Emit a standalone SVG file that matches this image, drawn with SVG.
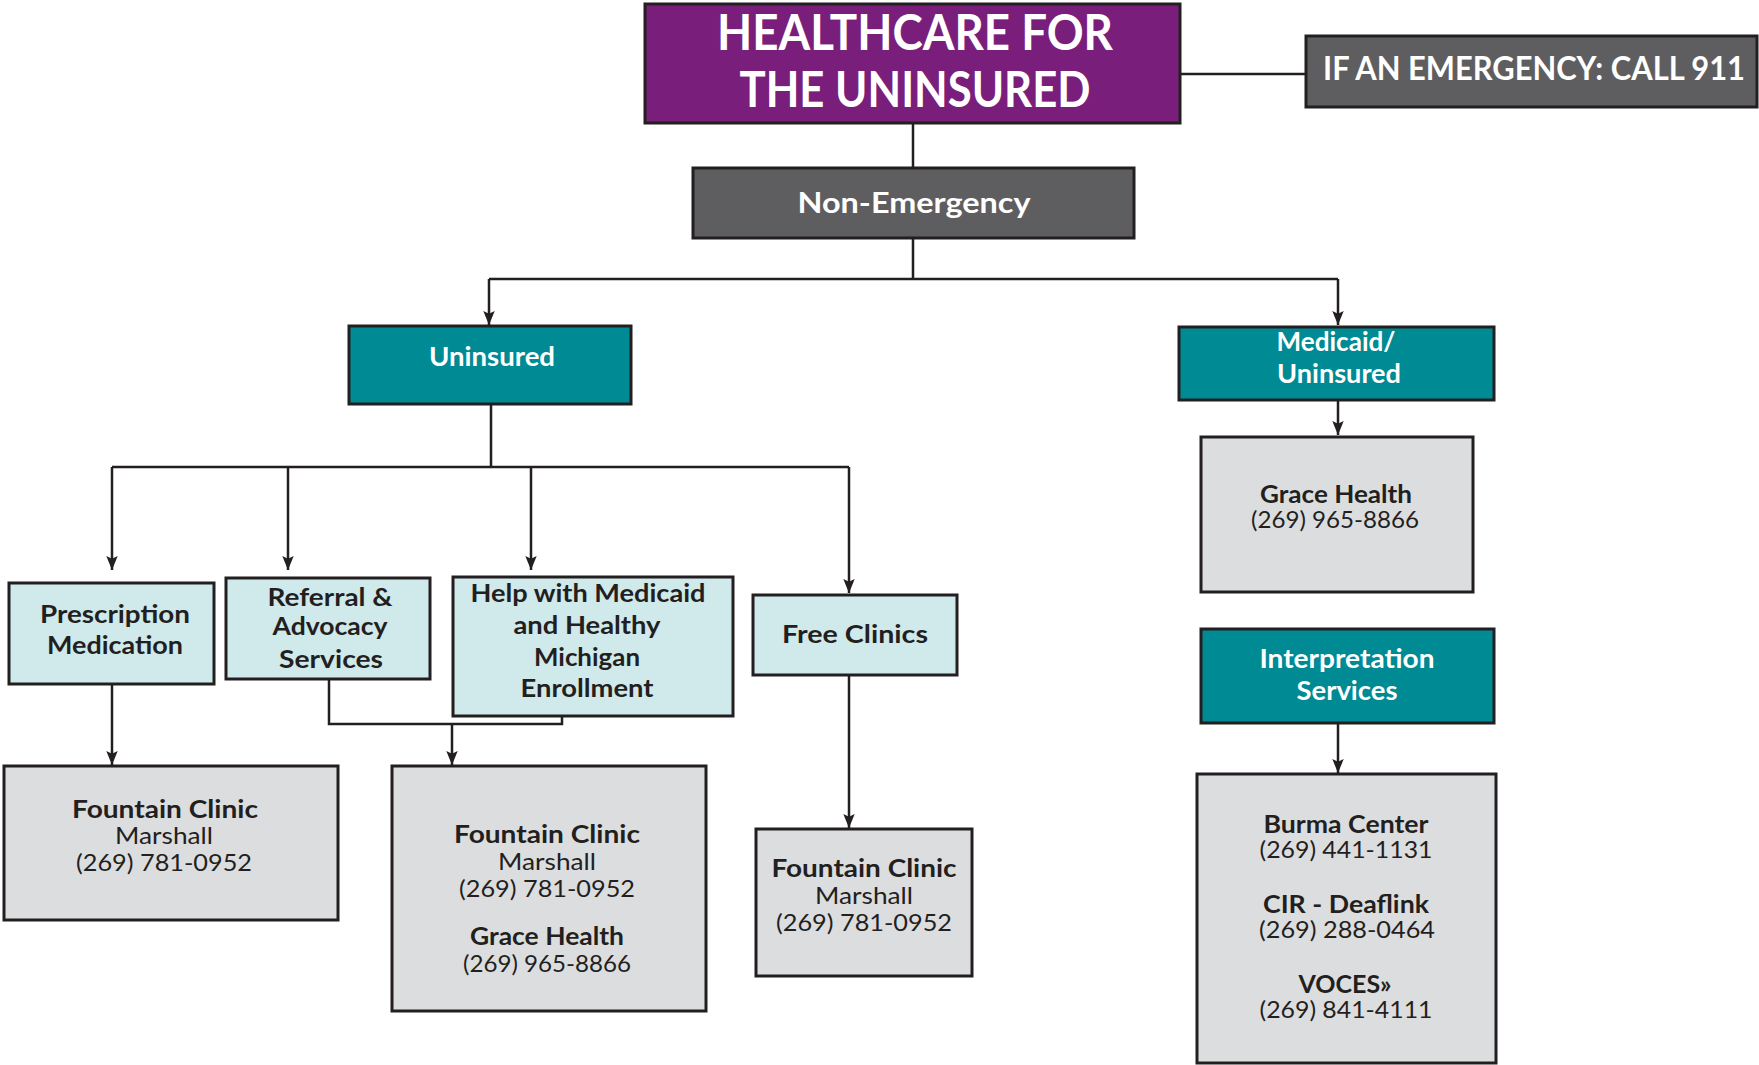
<svg xmlns="http://www.w3.org/2000/svg" width="1759" height="1065" viewBox="0 0 1759 1065">
<style>
.box{stroke:#231f20;stroke-width:3}
.purple{fill:#7a1e7b}
.dark{fill:#5e5e60}
.teal{fill:#008a93}
.lt{fill:#d0e9eb}
.gray{fill:#dcdddf}
text{font-family:Lato,"Open Sans","Liberation Sans",sans-serif;text-anchor:middle}
.w{fill:#ffffff;font-weight:bold}
.b{fill:#231f20;font-weight:bold}
.r{fill:#231f20;font-weight:normal}
.c{stroke:#231f20;stroke-width:2.5;fill:none}
.a{marker-end:url(#arr)}
</style>
<defs>
<marker id="arr" markerUnits="userSpaceOnUse" markerWidth="14" markerHeight="18" refX="16" refY="6.5" orient="auto" viewBox="0 0 16 13">
<path d="M0,0 L16,6.5 L0,13 L3,6.5 z" fill="#231f20"/>
</marker>
</defs>
<g id="connectors">
<path class="c" d="M1180,74 H1306"/>
<path class="c" d="M913,123 V168"/>
<path class="c" d="M913,238 V279 M489,279 H1338"/>
<path class="c a" d="M489,279 V325"/>
<path class="c a" d="M1338,279 V325"/>
<path class="c a" d="M1338,400 V435"/>
<path class="c a" d="M1338,722 V773"/>
<path class="c" d="M491,404 V467 M112,467 H849"/>
<path class="c a" d="M112,467 V570"/>
<path class="c a" d="M288,467 V570"/>
<path class="c a" d="M531,467 V570"/>
<path class="c a" d="M849,467 V593"/>
<path class="c a" d="M112,684 V765"/>
<path class="c" d="M329,679 V724 H562 V716"/>
<path class="c a" d="M452,724 V765"/>
<path class="c a" d="M849,675 V828"/>
</g>
<g id="title">
<rect class="box purple" x="645" y="4" width="535" height="119"/>
<text class="w" x="915" y="50" font-size="49" textLength="396" lengthAdjust="spacingAndGlyphs">HEALTHCARE FOR</text>
<text class="w" x="915" y="107" font-size="49" textLength="351" lengthAdjust="spacingAndGlyphs">THE UNINSURED</text>
</g>
<g id="emergency">
<rect class="box dark" x="1306" y="36" width="451" height="71"/>
<text class="w" x="1534" y="80" font-size="32" textLength="422" lengthAdjust="spacingAndGlyphs">IF AN EMERGENCY: CALL 911</text>
</g>
<g id="non-emergency">
<rect class="box dark" x="693" y="168" width="441" height="70"/>
<text class="w" x="914" y="213" font-size="29" textLength="233" lengthAdjust="spacingAndGlyphs">Non-Emergency</text>
</g>
<g id="uninsured">
<rect class="box teal" x="349" y="326" width="282" height="78"/>
<text class="w" x="492" y="366" font-size="26" textLength="126" lengthAdjust="spacingAndGlyphs">Uninsured</text>
</g>
<g id="medicaid-uninsured">
<rect class="box teal" x="1179" y="327" width="315" height="73"/>
<text class="w" x="1336" y="351" font-size="26" textLength="119" lengthAdjust="spacingAndGlyphs">Medicaid/</text>
<text class="w" x="1339" y="383" font-size="26" textLength="124" lengthAdjust="spacingAndGlyphs">Uninsured</text>
</g>
<g id="grace-health">
<rect class="box gray" x="1201" y="437" width="272" height="155"/>
<text class="b" x="1336" y="503" font-size="24" textLength="152" lengthAdjust="spacingAndGlyphs">Grace Health</text>
<text class="r" x="1335" y="528" font-size="24" textLength="168" lengthAdjust="spacingAndGlyphs">(269) 965-8866</text>
</g>
<g id="interpretation">
<rect class="box teal" x="1201" y="629" width="293" height="94"/>
<text class="w" x="1347" y="668" font-size="26" textLength="175" lengthAdjust="spacingAndGlyphs">Interpretation</text>
<text class="w" x="1347" y="700" font-size="26" textLength="101" lengthAdjust="spacingAndGlyphs">Services</text>
</g>
<g id="interpretation-contacts">
<rect class="box gray" x="1197" y="774" width="299" height="289"/>
<text class="b" x="1346" y="833" font-size="24" textLength="165" lengthAdjust="spacingAndGlyphs">Burma Center</text>
<text class="r" x="1346" y="858" font-size="24" textLength="173" lengthAdjust="spacingAndGlyphs">(269) 441-1131</text>
<text class="b" x="1346" y="913" font-size="24" textLength="166" lengthAdjust="spacingAndGlyphs">CIR - Deaflink</text>
<text class="r" x="1347" y="938" font-size="24" textLength="176" lengthAdjust="spacingAndGlyphs">(269) 288-0464</text>
<text class="b" x="1345" y="993" font-size="24" textLength="93" lengthAdjust="spacingAndGlyphs">VOCES»</text>
<text class="r" x="1346" y="1018" font-size="24" textLength="173" lengthAdjust="spacingAndGlyphs">(269) 841-4111</text>
</g>
<g id="prescription">
<rect class="box lt" x="9" y="583" width="205" height="101"/>
<text class="b" x="115" y="623" font-size="25" textLength="150" lengthAdjust="spacingAndGlyphs">Prescription</text>
<text class="b" x="115" y="654" font-size="25" textLength="136" lengthAdjust="spacingAndGlyphs">Medication</text>
</g>
<g id="referral">
<rect class="box lt" x="226" y="578" width="204" height="101"/>
<text class="b" x="330" y="606" font-size="25" textLength="125" lengthAdjust="spacingAndGlyphs">Referral &amp;</text>
<text class="b" x="330" y="635" font-size="25" textLength="115" lengthAdjust="spacingAndGlyphs">Advocacy</text>
<text class="b" x="331" y="668" font-size="25" textLength="104" lengthAdjust="spacingAndGlyphs">Services</text>
</g>
<g id="help-medicaid">
<rect class="box lt" x="453" y="577" width="280" height="139"/>
<text class="b" x="588" y="602" font-size="25" textLength="235" lengthAdjust="spacingAndGlyphs">Help with Medicaid</text>
<text class="b" x="587" y="634" font-size="25" textLength="147" lengthAdjust="spacingAndGlyphs">and Healthy</text>
<text class="b" x="587" y="666" font-size="25" textLength="106" lengthAdjust="spacingAndGlyphs">Michigan</text>
<text class="b" x="587" y="697" font-size="25" textLength="133" lengthAdjust="spacingAndGlyphs">Enrollment</text>
</g>
<g id="free-clinics">
<rect class="box lt" x="753" y="595" width="204" height="80"/>
<text class="b" x="855" y="643" font-size="25" textLength="146" lengthAdjust="spacingAndGlyphs">Free Clinics</text>
</g>
<g id="fountain-1">
<rect class="box gray" x="4" y="766" width="334" height="154"/>
<text class="b" x="165" y="818" font-size="24" textLength="186" lengthAdjust="spacingAndGlyphs">Fountain Clinic</text>
<text class="r" x="164" y="844" font-size="24" textLength="98" lengthAdjust="spacingAndGlyphs">Marshall</text>
<text class="r" x="164" y="871" font-size="24" textLength="176" lengthAdjust="spacingAndGlyphs">(269) 781-0952</text>
</g>
<g id="fountain-grace">
<rect class="box gray" x="392" y="766" width="314" height="245"/>
<text class="b" x="547" y="843" font-size="24" textLength="186" lengthAdjust="spacingAndGlyphs">Fountain Clinic</text>
<text class="r" x="547" y="870" font-size="24" textLength="98" lengthAdjust="spacingAndGlyphs">Marshall</text>
<text class="r" x="547" y="897" font-size="24" textLength="176" lengthAdjust="spacingAndGlyphs">(269) 781-0952</text>
<text class="b" x="547" y="945" font-size="24" textLength="154" lengthAdjust="spacingAndGlyphs">Grace Health</text>
<text class="r" x="547" y="972" font-size="24" textLength="168" lengthAdjust="spacingAndGlyphs">(269) 965-8866</text>
</g>
<g id="fountain-3">
<rect class="box gray" x="756" y="829" width="216" height="147"/>
<text class="b" x="864" y="877" font-size="24" textLength="185" lengthAdjust="spacingAndGlyphs">Fountain Clinic</text>
<text class="r" x="864" y="904" font-size="24" textLength="98" lengthAdjust="spacingAndGlyphs">Marshall</text>
<text class="r" x="864" y="931" font-size="24" textLength="176" lengthAdjust="spacingAndGlyphs">(269) 781-0952</text>
</g>
</svg>
